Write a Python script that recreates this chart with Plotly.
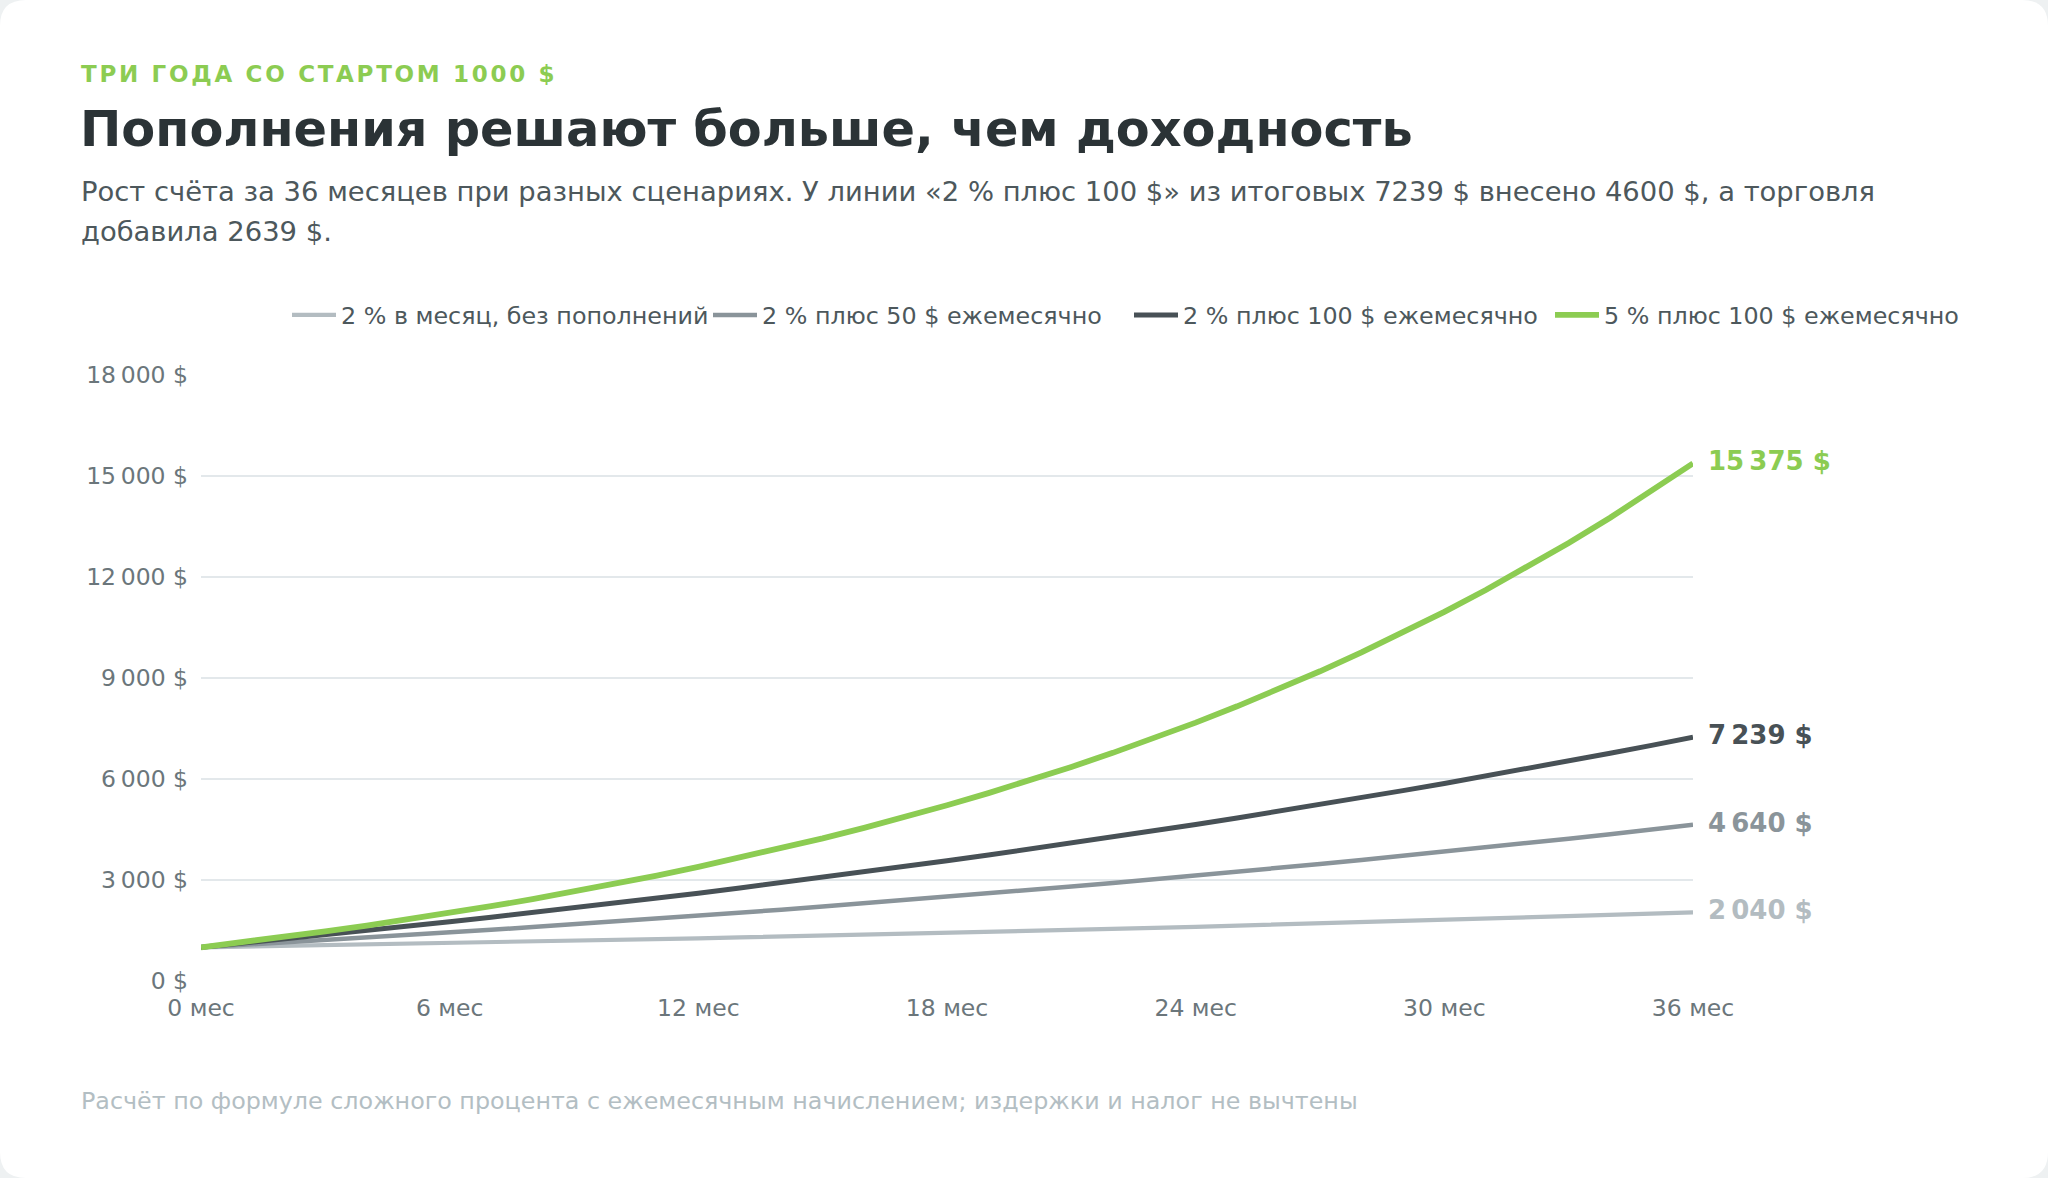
import plotly.graph_objects as go

# ---------------------------------------------------------------- data

months = list(range(37))

no_topup = [1000, 1020, 1040, 1061, 1082, 1104, 1126, 1149, 1172, 1195, 1219, 1243,
            1268, 1294, 1319, 1346, 1373, 1400, 1428, 1457, 1486, 1516, 1546, 1577,
            1608, 1641, 1673, 1707, 1741, 1776, 1811, 1848, 1885, 1922, 1961, 2000, 2040]

plus_50 = [1000, 1070, 1141, 1214, 1289, 1364, 1442, 1520, 1601, 1683, 1766, 1852,
           1939, 2028, 2118, 2211, 2305, 2401, 2499, 2599, 2701, 2805, 2911, 3019,
           3130, 3242, 3357, 3474, 3594, 3715, 3840, 3967, 4096, 4228, 4362, 4500, 4640]

plus_100 = [1000, 1120, 1242, 1367, 1495, 1624, 1757, 1892, 2030, 2171, 2314, 2460,
            2609, 2762, 2917, 3075, 3237, 3401, 3569, 3741, 3916, 4094, 4276, 4461,
            4651, 4844, 5041, 5241, 5446, 5655, 5868, 6086, 6307, 6533, 6764, 6999, 7239]

five_plus_100 = [1000, 1150, 1308, 1473, 1647, 1829, 2020, 2221, 2432, 2654, 2887, 3131,
                 3388, 3657, 3940, 4237, 4549, 4876, 5220, 5581, 5960, 6358, 6776, 7215,
                 7675, 8159, 8667, 9200, 9760, 10348, 10966, 11614, 12295, 13010, 13760,
                 14548, 15375]

series_names = [
    "2 % в месяц, без пополнений",
    "2 % плюс 50 $ ежемесячно",
    "2 % плюс 100 $ ежемесячно",
    "5 % плюс 100 $ ежемесячно",
]
series_values = [no_topup, plus_50, plus_100, five_plus_100]
series_colors = ["#b3bcc1", "#8a949a", "#485156", "#8ccc52"]
series_widths = [4.2, 4.5, 5, 5.8]

x_ticks = [0, 6, 12, 18, 24, 30, 36]
y_ticks = [0, 3000, 6000, 9000, 12000, 15000, 18000]

eyebrow = "ТРИ ГОДА СО СТАРТОМ 1000 $"
title = "Пополнения решают больше, чем доходность"
subtitle_1 = ("Рост счёта за 36 месяцев при разных сценариях. У линии «2 % плюс 100 $» "
              "из итоговых 7239 $ внесено 4600 $, а торговля")
subtitle_2 = "добавила 2639 $."
footnote = "Расчёт по формуле сложного процента с ежемесячным начислением; издержки и налог не вычтены"

# ---------------------------------------------------------------- geometry

W, H = 2048, 1178
ML, MR, MT, MB = 201, 355, 375, 197
PW = W - ML - MR
PH = H - MT - MB
FONT = "DejaVu Sans"


def px_x(px):
    return (px - ML) / PW


def px_y(py):
    return (H - MB - py) / PH


def money(v):
    s = f"{int(round(v)):,}".replace(",", "\u202f")
    return s + " $"


fig = go.Figure()

for name, vals, color, width in zip(series_names, series_values, series_colors, series_widths):
    fig.add_trace(go.Scatter(
        x=months, y=vals,
        mode="lines",
        name=name,
        line=dict(color=color, width=width),
        hovertemplate="%{x} мес: %{y:,.0f} $<extra></extra>",
    ))

annotations = []

# end labels
for vals, color in zip(series_values, series_colors):
    annotations.append(dict(
        x=months[-1], y=vals[-1], xref="x", yref="y",
        text="<b>" + money(vals[-1]) + "</b>",
        xanchor="left", yanchor="middle", xshift=13, yshift=2,
        showarrow=False,
        font=dict(family=FONT, size=26, color=color),
    ))

# header and footer texts
annotations.append(dict(
    x=px_x(79), y=px_y(74), xref="paper", yref="paper",
    text='<span style="letter-spacing:2.7px"><b>' + eyebrow + "</b></span>",
    xanchor="left", yanchor="middle", showarrow=False,
    font=dict(family=FONT, size=23, color="#8ccc52"),
))
annotations.append(dict(
    x=px_x(78), y=px_y(129), xref="paper", yref="paper",
    text="<b>" + title + "</b>", xanchor="left", yanchor="middle", showarrow=False,
    font=dict(family=FONT, size=49.4, color="#2b3336"),
))
annotations.append(dict(
    x=px_x(79), y=px_y(192), xref="paper", yref="paper",
    text=subtitle_1, xanchor="left", yanchor="middle", showarrow=False,
    font=dict(family=FONT, size=27.4, color="#4d585c"),
))
annotations.append(dict(
    x=px_x(79), y=px_y(231), xref="paper", yref="paper",
    text=subtitle_2, xanchor="left", yanchor="middle", showarrow=False,
    font=dict(family=FONT, size=27.4, color="#4d585c"),
))
annotations.append(dict(
    x=px_x(79), y=px_y(1101), xref="paper", yref="paper",
    text=footnote, xanchor="left", yanchor="middle", showarrow=False,
    font=dict(family=FONT, size=23.8, color="#b3bec3"),
))

# white card with rounded corners over a light page
r = 26
x0, x1 = px_x(0), px_x(W)
y0, y1 = px_y(H), px_y(0)
rx, ry = r / PW, r / PH
card_path = (
    f"M {x0 + rx},{y1} L {x1 - rx},{y1} Q {x1},{y1} {x1},{y1 - ry} "
    f"L {x1},{y0 + ry} Q {x1},{y0} {x1 - rx},{y0} "
    f"L {x0 + rx},{y0} Q {x0},{y0} {x0},{y0 + ry} "
    f"L {x0},{y1 - ry} Q {x0},{y1} {x0 + rx},{y1} Z"
)

fig.update_layout(
    width=W, height=H,
    margin=dict(l=ML, r=MR, t=MT, b=MB, autoexpand=False),
    paper_bgcolor="#eef1f2",
    plot_bgcolor="rgba(0,0,0,0)",
    font=dict(family=FONT, size=23.5, color="#6b767b"),
    showlegend=True,
    legend=dict(
        orientation="h",
        xref="paper", yref="paper",
        x=px_x(1971), xanchor="right",
        y=px_y(315), yanchor="middle",
        font=dict(family=FONT, size=23.8, color="#4d585c"),
        itemwidth=44,
        entrywidth=362, entrywidthmode="pixels",
        bgcolor="rgba(0,0,0,0)",
    ),
    shapes=[dict(
        type="path", path=card_path, xref="paper", yref="paper",
        fillcolor="#ffffff", line=dict(width=0), layer="below",
    )],
    annotations=annotations,
    hovermode="x unified",
)

fig.update_xaxes(
    range=[0, 36],
    tickmode="array",
    tickvals=x_ticks,
    ticktext=[f"{m} мес" for m in x_ticks],
    showgrid=False, zeroline=False, showline=False,
    ticks="", ticklabelstandoff=10,
    tickfont=dict(family=FONT, size=23.5, color="#6b767b"),
    automargin=False,
    fixedrange=True,
)

fig.update_yaxes(
    range=[0, 18000],
    tickmode="array",
    tickvals=y_ticks,
    ticktext=[money(v) for v in y_ticks],
    showgrid=True, gridcolor="#e3e8eb", gridwidth=2,
    zeroline=False, showline=False,
    ticks="", ticklabelstandoff=12,
    tickfont=dict(family=FONT, size=23.5, color="#6b767b"),
    automargin=False,
    fixedrange=True,
)

fig.write_html(
    "out.html",
    config={"displayModeBar": False},
    post_script="document.body.style.margin='0';document.body.style.overflow='hidden';",
)
